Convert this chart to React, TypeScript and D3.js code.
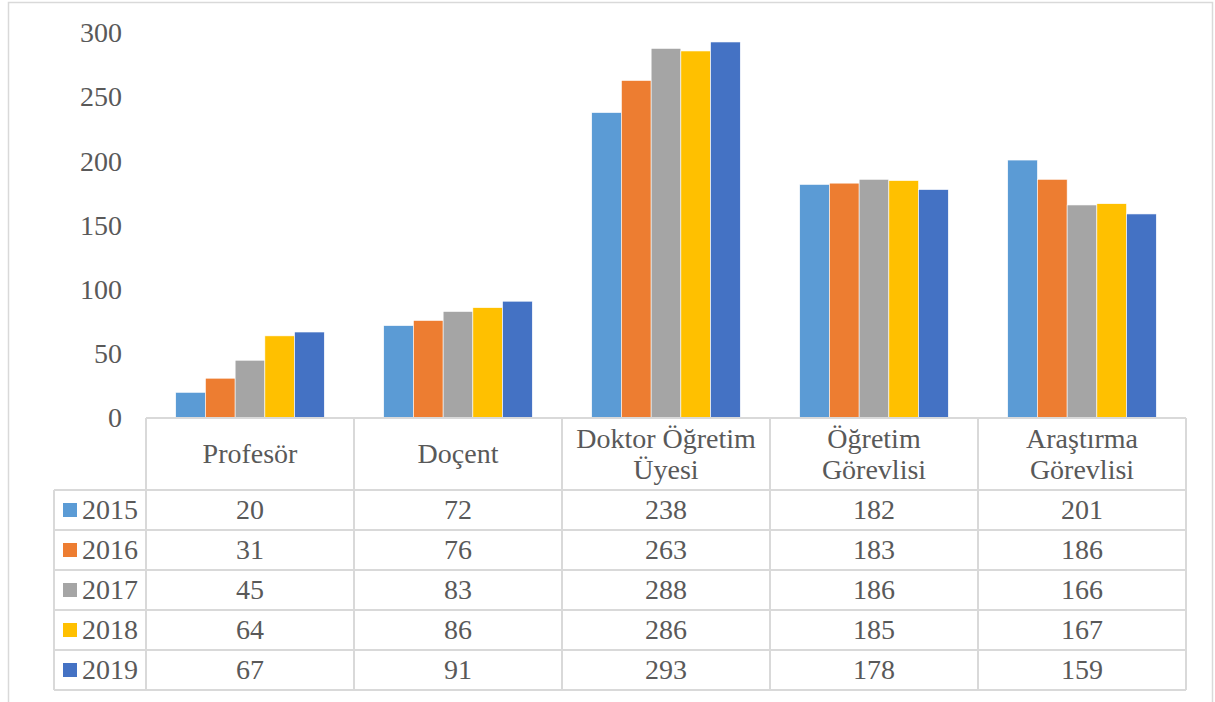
import React from "react";
import * as d3 from "d3";

const categories = ["Profesör", "Doçent", "Doktor Öğretim Üyesi", "Öğretim Görevlisi", "Araştırma Görevlisi"];
const categoryLines = [["Profesör"], ["Doçent"], ["Doktor Öğretim", "Üyesi"], ["Öğretim", "Görevlisi"], ["Araştırma", "Görevlisi"]];
const years = ["2015", "2016", "2017", "2018", "2019"];
const v2015 = [20, 72, 238, 182, 201];
const v2016 = [31, 76, 263, 183, 186];
const v2017 = [45, 83, 288, 186, 166];
const v2018 = [64, 86, 286, 185, 167];
const v2019 = [67, 91, 293, 178, 159];
const series = [v2015, v2016, v2017, v2018, v2019];
const colors = ["#5B9BD5", "#ED7D31", "#A5A5A5", "#FFC000", "#4472C4"];
const yTicks = [0, 50, 100, 150, 200, 250, 300];

export default function App() {
  const W = 1215, H = 702;
  const x0 = 146, x1 = 1186;
  const yBase = 418, yTop = 33;
  const y = d3.scaleLinear().domain([0, 300]).range([yBase, yTop]);
  const xCat = d3.scaleBand<number>().domain(d3.range(categories.length)).range([x0, x1]).paddingInner(0).paddingOuter(0);
  const bw = xCat.bandwidth();
  const xSer = d3.scaleBand<number>().domain(d3.range(years.length)).range([0, bw]).paddingInner(0).paddingOuter(1);
  const headerBottom = 490;
  const rowH = 40;
  const legendLeft = 54;
  const grid = "#D9D9D9";
  const txt = "#595959";
  const ff = "Liberation Serif";
  const fs = 28;
  const dy = "0.33em";

  return (
    <svg width={W} height={H} style={{ position: "absolute", left: 0, top: 0, display: "block", background: "#fff" }}>
      <rect x={8.5} y={2.5} width={1204} height={720} fill="#fff" stroke={grid} strokeWidth={1.5} />
      {yTicks.map((t) => (
        <text key={t} x={122} y={y(t)} dy={dy} textAnchor="end" fontFamily={ff} fontSize={fs} fill={txt}>{t}</text>
      ))}
      {series.map((vals, s) =>
        vals.map((v, c) => (
          <rect key={`${s}-${c}`} x={(xCat(c) ?? 0) + (xSer(s) ?? 0)} y={y(v)} width={xSer.bandwidth()} height={yBase - y(v)} fill={colors[s]} stroke="#fff" strokeWidth={0.6} />
        ))
      )}
      <line x1={x0} x2={x1} y1={yBase} y2={yBase} stroke={grid} strokeWidth={2} />
      {d3.range(categories.length + 1).map((i) => {
        const xx = i < categories.length ? (xCat(i) ?? 0) : x1;
        return <line key={`v${i}`} x1={xx} x2={xx} y1={yBase} y2={headerBottom + rowH * years.length} stroke={grid} strokeWidth={2} />;
      })}
      <line x1={legendLeft} x2={legendLeft} y1={headerBottom} y2={headerBottom + rowH * years.length} stroke={grid} strokeWidth={2} />
      {d3.range(years.length + 1).map((r) => (
        <line key={`h${r}`} x1={legendLeft} x2={x1} y1={headerBottom + r * rowH} y2={headerBottom + r * rowH} stroke={grid} strokeWidth={2} />
      ))}
      {categoryLines.map((lines, c) => {
        const cx = (xCat(c) ?? 0) + bw / 2;
        const cy = (yBase + headerBottom) / 2;
        return lines.map((ln, i) => (
          <text key={`c${c}-${i}`} x={cx} y={cy + (i - (lines.length - 1) / 2) * 31} dy={dy} textAnchor="middle" fontFamily={ff} fontSize={fs} fill={txt}>{ln}</text>
        ));
      })}
      {years.map((yr, r) => {
        const cy = headerBottom + r * rowH + rowH / 2;
        return (
          <g key={yr}>
            <rect x={63} y={cy - 7} width={14} height={14} fill={colors[r]} />
            <text x={82} y={cy} dy={dy} fontFamily={ff} fontSize={fs} fill={txt}>{yr}</text>
            {series[r].map((v, c) => (
              <text key={c} x={(xCat(c) ?? 0) + bw / 2} y={cy} dy={dy} textAnchor="middle" fontFamily={ff} fontSize={fs} fill={txt}>{v}</text>
            ))}
          </g>
        );
      })}
    </svg>
  );
}
